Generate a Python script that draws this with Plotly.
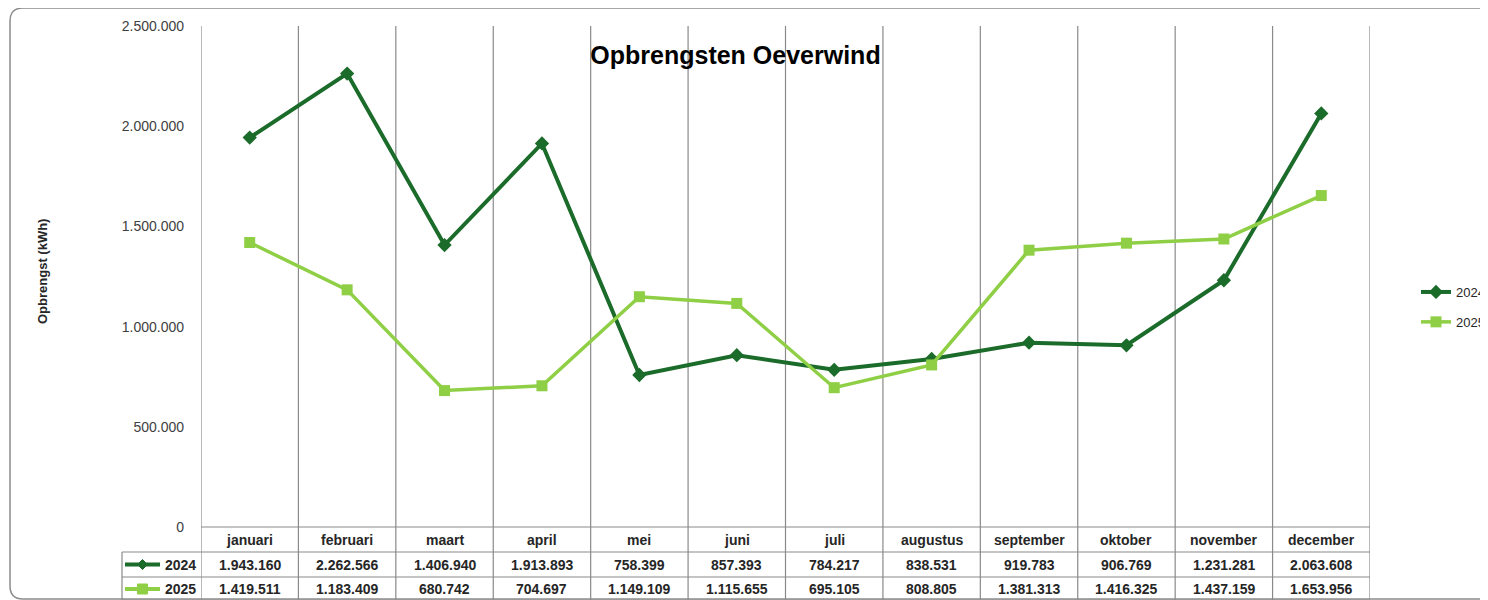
import plotly.graph_objects as go

months = ["januari", "februari", "maart", "april", "mei", "juni", "juli",
          "augustus", "september", "oktober", "november", "december"]
series_names = ["2024", "2025"]
values_2024 = [1943160, 2262566, 1406940, 1913893, 758399, 857393, 784217,
               838531, 919783, 906769, 1231281, 2063608]
values_2025 = [1419511, 1183409, 680742, 704697, 1149109, 1115655, 695105,
               808805, 1381313, 1416325, 1437159, 1653956]
y_ticks = [0, 500000, 1000000, 1500000, 2000000, 2500000]

OFF = 8  # default page body margin
W, H = 1488 - OFF, 600 - OFF
L, R, T, B = 201, 1370, 26, 527  # plot area in screen pixels
PW, PH = R - L, B - T

def px(x):
    return (x - L) / PW

def py(y):
    return (B - y) / PH

C24 = "#1b6b2a"
C25 = "#8fcf45"
GRID = "#8a8a8a"
TXT = "#262626"
FONT = "Liberation Sans"

def fmt(v):
    return f"{v:,}".replace(",", ".")

fig = go.Figure()
fig.add_trace(go.Scatter(
    x=months, y=values_2024, name=series_names[0], mode="lines+markers",
    line=dict(color=C24, width=4), legendgroup="a",
    marker=dict(symbol="diamond", size=11, color=C24)))
fig.add_trace(go.Scatter(
    x=months, y=values_2025, name=series_names[1], mode="lines+markers",
    line=dict(color=C25, width=3.5), legendgroup="b",
    marker=dict(symbol="square", size=11, color=C25)))

shapes = []
for i in range(len(months) + 1):
    shapes.append(dict(type="line", xref="x", yref="paper",
                       x0=i - 0.5, x1=i - 0.5, y0=1, y1=py(602),
                       line=dict(color=GRID, width=1.2), layer="below"))
shapes.append(dict(type="line", xref="x", yref="paper", x0=-0.5, x1=len(months) - 0.5,
                   y0=0, y1=0, line=dict(color=GRID, width=1.2)))
for yy in (552, 577, 600):
    shapes.append(dict(type="line", xref="paper", yref="paper", x0=px(122), x1=1.0,
                       y0=py(yy), y1=py(yy), line=dict(color=GRID, width=1.2)))
shapes.append(dict(type="line", xref="paper", yref="paper", x0=px(122), x1=px(122),
                   y0=py(552), y1=py(602), line=dict(color=GRID, width=1.2)))
l, t, r, b, rad = 10, 8, 1510, 599, 13
path = (f"M {px(l)},{py(b - rad)} L {px(l)},{py(t + rad)} "
        f"Q {px(l)},{py(t)} {px(l + rad)},{py(t)} L {px(r)},{py(t)} "
        f"M {px(l)},{py(b - rad)} Q {px(l)},{py(b)} {px(l + rad)},{py(b)} L {px(r)},{py(b)}")
shapes.append(dict(type="path", xref="paper", yref="paper", path=path,
                   line=dict(color="#8c8c8c", width=1.5)))
for row_y, col, sym in ((564.5, C24, "diamond"), (589, C25, "square")):
    shapes.append(dict(type="line", xref="paper", yref="paper", x0=px(125), x1=px(160),
                       y0=py(row_y), y1=py(row_y), line=dict(color=col, width=4)))
    cx, cy, s = 142.5, row_y, 5
    if sym == "diamond":
        p = (f"M {px(cx - s)},{py(cy)} L {px(cx)},{py(cy - s)} L {px(cx + s)},{py(cy)} "
             f"L {px(cx)},{py(cy + s)} Z")
    else:
        p = (f"M {px(cx - s)},{py(cy - s)} L {px(cx + s)},{py(cy - s)} L {px(cx + s)},{py(cy + s)} "
             f"L {px(cx - s)},{py(cy + s)} Z")
    shapes.append(dict(type="path", xref="paper", yref="paper", path=p,
                       fillcolor=col, line=dict(color=col, width=1)))

annotations = []
tf = dict(family=FONT, size=14, color=TXT)
for m, v24, v25 in zip(months, values_2024, values_2025):
    annotations.append(dict(x=m, xref="x", y=py(539.5), yref="paper", text=f"<b>{m}</b>",
                            showarrow=False, font=tf, xanchor="center", yanchor="middle"))
    annotations.append(dict(x=m, xref="x", y=py(564.5), yref="paper", text=f"<b>{fmt(v24)}</b>",
                            showarrow=False, font=tf, xanchor="center", yanchor="middle"))
    annotations.append(dict(x=m, xref="x", y=py(589), yref="paper", text=f"<b>{fmt(v25)}</b>",
                            showarrow=False, font=tf, xanchor="center", yanchor="middle"))
for name, row_y in zip(series_names, (564.5, 589)):
    annotations.append(dict(x=px(198), xref="paper", y=py(row_y), yref="paper",
                            text=f"<b>{name}</b>", showarrow=False, font=tf,
                            xanchor="right", yanchor="middle"))
annotations.append(dict(x=px(42), xref="paper", y=py(272), yref="paper",
                        text="<b>Opbrengst (kWh)</b>", textangle=-90, showarrow=False,
                        font=dict(family=FONT, size=13, color=TXT),
                        xanchor="center", yanchor="middle"))

fig.update_layout(
    width=W, height=H,
    margin=dict(l=L - OFF, r=1488 - R, t=T - OFF, b=600 - B, autoexpand=False),
    paper_bgcolor="white", plot_bgcolor="white",
    separators=",.",
    title=dict(text="<b>Opbrengsten Oeverwind</b>", x=(735.5 - OFF) / W, xref="container",
               xanchor="center", y=1 - (55 - OFF) / H, yref="container", yanchor="middle",
               font=dict(family=FONT, size=25, color="#000000")),
    xaxis=dict(type="category", categoryorder="array", categoryarray=months,
               range=[-0.5, len(months) - 0.5], showticklabels=False, showgrid=False,
               zeroline=False, showline=False, ticks=""),
    yaxis=dict(range=[0, 2500000], tickvals=y_ticks, tickformat=",.0f",
               showgrid=False, zeroline=False, showline=False, ticks="",
               ticklabelstandoff=16,
               tickfont=dict(family=FONT, size=14, color="#404040")),
    legend=dict(x=px(1416), xanchor="left", y=py(307), yanchor="middle",
                font=dict(family=FONT, size=13, color=TXT), tracegroupgap=10,
                bgcolor="rgba(0,0,0,0)"),
    shapes=shapes, annotations=annotations,
)

fig.write_html("out.html")
